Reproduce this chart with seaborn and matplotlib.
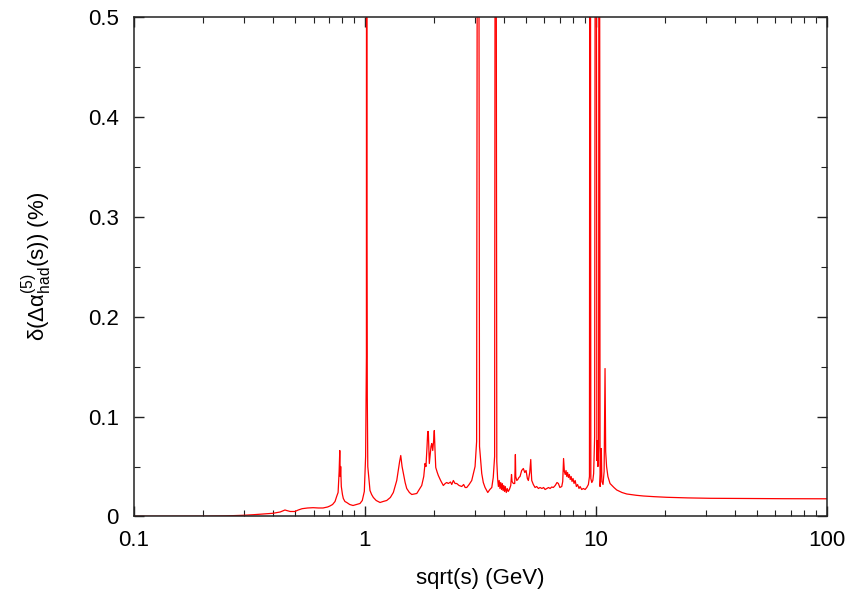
import numpy as np
import pandas as pd

import seaborn as sns
import matplotlib.pyplot as plt
from matplotlib.ticker import FixedLocator, NullFormatter

# values
sqrt_s = [
    0.100, 0.150, 0.200, 0.250, 0.297, 0.330, 0.362, 0.400, 0.430, 0.451,
    0.458, 0.475, 0.498, 0.515, 0.535, 0.565, 0.597, 0.630, 0.659, 0.690,
    0.706, 0.725, 0.743, 0.755, 0.766, 0.774, 0.779, 0.783, 0.786, 0.791,
    0.800, 0.807, 0.820, 0.835, 0.860, 0.889, 0.920, 0.953, 0.975, 0.995,
    1.008, 1.013, 1.016, 1.018, 1.020, 1.022, 1.025, 1.030, 1.053, 1.070,
    1.089, 1.120, 1.164, 1.200, 1.244, 1.290, 1.329, 1.375, 1.415, 1.431,
    1.450, 1.469, 1.495, 1.519, 1.560, 1.597, 1.640, 1.679, 1.720, 1.764,
    1.800, 1.823, 1.840, 1.860, 1.873, 1.884, 1.903, 1.920, 1.935, 1.949,
    1.969, 1.985, 2.000, 2.015, 2.029, 2.060, 2.082, 2.130, 2.188, 2.230,
    2.264, 2.300, 2.350, 2.380, 2.418, 2.460, 2.501, 2.560, 2.629, 2.680,
    2.720, 2.764, 2.830, 2.905, 2.960, 3.003, 3.050, 3.085, 3.105, 3.140,
    3.210, 3.260, 3.318, 3.409, 3.480, 3.548, 3.600, 3.650, 3.680, 3.692,
    3.730, 3.760, 3.790, 3.820, 3.850, 3.880, 3.910, 3.940, 3.970, 4.000,
    4.030, 4.060, 4.100, 4.140, 4.180, 4.230, 4.287, 4.320, 4.343, 4.400,
    4.460, 4.490, 4.507, 4.552, 4.600, 4.650, 4.703, 4.780, 4.861, 4.930,
    4.994, 5.060, 5.110, 5.180, 5.234, 5.260, 5.286, 5.370, 5.463, 5.550,
    5.650, 5.742, 5.850, 5.950, 6.040, 6.138, 6.250, 6.350, 6.450, 6.556,
    6.680, 6.800, 6.893, 7.000, 7.130, 7.200, 7.260, 7.320, 7.380, 7.440,
    7.497, 7.560, 7.620, 7.690, 7.760, 7.830, 7.900, 7.980, 8.060, 8.150,
    8.250, 8.350, 8.470, 8.560, 8.700, 8.845, 9.000, 9.150, 9.300, 9.400,
    9.445, 9.475, 9.530, 9.620, 9.720, 9.800, 9.900, 9.990, 10.040, 10.120,
    10.170, 10.230, 10.300, 10.340, 10.370, 10.450, 10.520, 10.580, 10.640, 10.760,
    10.880, 10.980, 11.050, 11.150, 11.300, 11.540, 12.000, 12.340, 13.000, 13.640,
    15.000, 16.090, 18.000, 20.330, 25.000, 31.300, 45.000, 65.000, 100.000,
]
delta = [
    0.0002, 0.0002, 0.0003, 0.0006, 0.0012, 0.0018, 0.0025, 0.0032, 0.0045, 0.0065,
    0.0060, 0.0050, 0.0050, 0.0065, 0.0078, 0.0085, 0.0088, 0.0085, 0.0085, 0.0095,
    0.0105, 0.0120, 0.0150, 0.0200, 0.0240, 0.0450, 0.0660, 0.0400, 0.0500, 0.0300,
    0.0220, 0.0180, 0.0150, 0.0140, 0.0120, 0.0110, 0.0120, 0.0130, 0.0160, 0.0250,
    0.0600, 0.1200, 0.1600, 1.0000, 1.0000, 0.2800, 0.1200, 0.0500, 0.0260, 0.0220,
    0.0190, 0.0160, 0.0140, 0.0150, 0.0160, 0.0190, 0.0240, 0.0360, 0.0550, 0.0610,
    0.0500, 0.0430, 0.0340, 0.0280, 0.0240, 0.0220, 0.0225, 0.0230, 0.0270, 0.0310,
    0.0400, 0.0530, 0.0500, 0.0700, 0.0850, 0.0850, 0.0530, 0.0620, 0.0700, 0.0730,
    0.0660, 0.0750, 0.0860, 0.0650, 0.0490, 0.0440, 0.0410, 0.0360, 0.0310, 0.0330,
    0.0340, 0.0330, 0.0345, 0.0320, 0.0360, 0.0330, 0.0330, 0.0310, 0.0300, 0.0320,
    0.0290, 0.0290, 0.0320, 0.0360, 0.0440, 0.0500, 0.0750, 1.0000, 1.0000, 0.0700,
    0.0430, 0.0340, 0.0290, 0.0240, 0.0270, 0.0290, 0.0390, 0.0600, 1.0000, 1.0000,
    0.0550, 0.0380, 0.0300, 0.0360, 0.0280, 0.0340, 0.0270, 0.0330, 0.0260, 0.0310,
    0.0250, 0.0300, 0.0240, 0.0280, 0.0250, 0.0270, 0.0310, 0.0420, 0.0350, 0.0330,
    0.0330, 0.0620, 0.0400, 0.0360, 0.0370, 0.0390, 0.0400, 0.0460, 0.0480, 0.0440,
    0.0460, 0.0380, 0.0360, 0.0440, 0.0570, 0.0450, 0.0360, 0.0320, 0.0290, 0.0300,
    0.0280, 0.0290, 0.0280, 0.0290, 0.0270, 0.0280, 0.0290, 0.0280, 0.0295, 0.0290,
    0.0310, 0.0340, 0.0330, 0.0290, 0.0300, 0.0350, 0.0580, 0.0450, 0.0420, 0.0460,
    0.0400, 0.0440, 0.0390, 0.0420, 0.0370, 0.0400, 0.0350, 0.0380, 0.0330, 0.0360,
    0.0300, 0.0320, 0.0280, 0.0300, 0.0270, 0.0280, 0.0270, 0.0290, 0.0320, 0.0400,
    1.0000, 1.0000, 0.0380, 0.0340, 0.0360, 0.0430, 0.0800, 1.0000, 1.0000, 0.0560,
    0.0760, 0.0500, 0.0700, 1.0000, 1.0000, 0.0300, 0.0450, 0.0680, 0.0350, 0.0320,
    0.0450, 0.1480, 0.0650, 0.0500, 0.0400, 0.0330, 0.0290, 0.0265, 0.0240, 0.0225,
    0.0212, 0.0205, 0.0198, 0.0192, 0.0186, 0.0182, 0.0180, 0.0178, 0.0177,
]

x_ticks = [0.1, 1, 10, 100]
x_tick_labels = ['0.1', '1', '10', '100']
y_ticks = [0, 0.1, 0.2, 0.3, 0.4, 0.5]
y_tick_labels = ['0', '0.1', '0.2', '0.3', '0.4', '0.5']

df = pd.DataFrame({'sqrt_s': sqrt_s, 'delta': delta})

sns.set_style('ticks')
plt.rcParams['font.family'] = ['Liberation Sans', 'DejaVu Sans']
plt.rcParams['mathtext.fontset'] = 'custom'
plt.rcParams['mathtext.rm'] = 'Liberation Sans'
plt.rcParams['mathtext.it'] = 'Liberation Sans'
plt.rcParams['text.color'] = 'black'
plt.rcParams['axes.labelcolor'] = 'black'
plt.rcParams['xtick.labelcolor'] = 'black'
plt.rcParams['ytick.labelcolor'] = 'black'

fig = plt.figure(figsize=(8.66, 5.90), dpi=100)
ax = fig.add_axes([0.1547, 0.1246, 0.7997, 0.8471])

sns.lineplot(data=df, x='sqrt_s', y='delta', color='red', lw=0.9,
             estimator=None, sort=False, ax=ax)

ax.set_xscale('log')
ax.set_xlim(0.1, 100)
ax.set_ylim(0, 0.5)

ax.set_xticks(x_ticks)
ax.set_xticklabels(x_tick_labels)
minor = [m * 10.0 ** e for e in (-1, 0, 1) for m in range(2, 10)]
ax.xaxis.set_minor_locator(FixedLocator(minor))
ax.xaxis.set_minor_formatter(NullFormatter())
ax.set_yticks(y_ticks)
ax.set_yticklabels(y_tick_labels)
ax.yaxis.set_minor_locator(FixedLocator([0.05, 0.15, 0.25, 0.35, 0.45]))

ax.tick_params(which='both', direction='in', top=True, right=True,
               labelsize=16, color='#222222')
ax.tick_params(which='major', length=7, width=1)
ax.tick_params(which='minor', length=4, width=0.8)
ax.tick_params(axis='x', which='major', pad=10)
ax.tick_params(axis='y', which='major', pad=11)
for sp in ax.spines.values():
    sp.set_linewidth(1.1)
    sp.set_color('#222222')

ax.set_xlabel('sqrt(s) (GeV)', fontsize=16, labelpad=12)
ax.set_ylabel(r'δ(Δα$_{\mathrm{had}}^{(5)}$(s)) (%)', fontsize=16)
ax.yaxis.set_label_coords(-0.115, 0.5)

fig.savefig('out.png', dpi=100)
